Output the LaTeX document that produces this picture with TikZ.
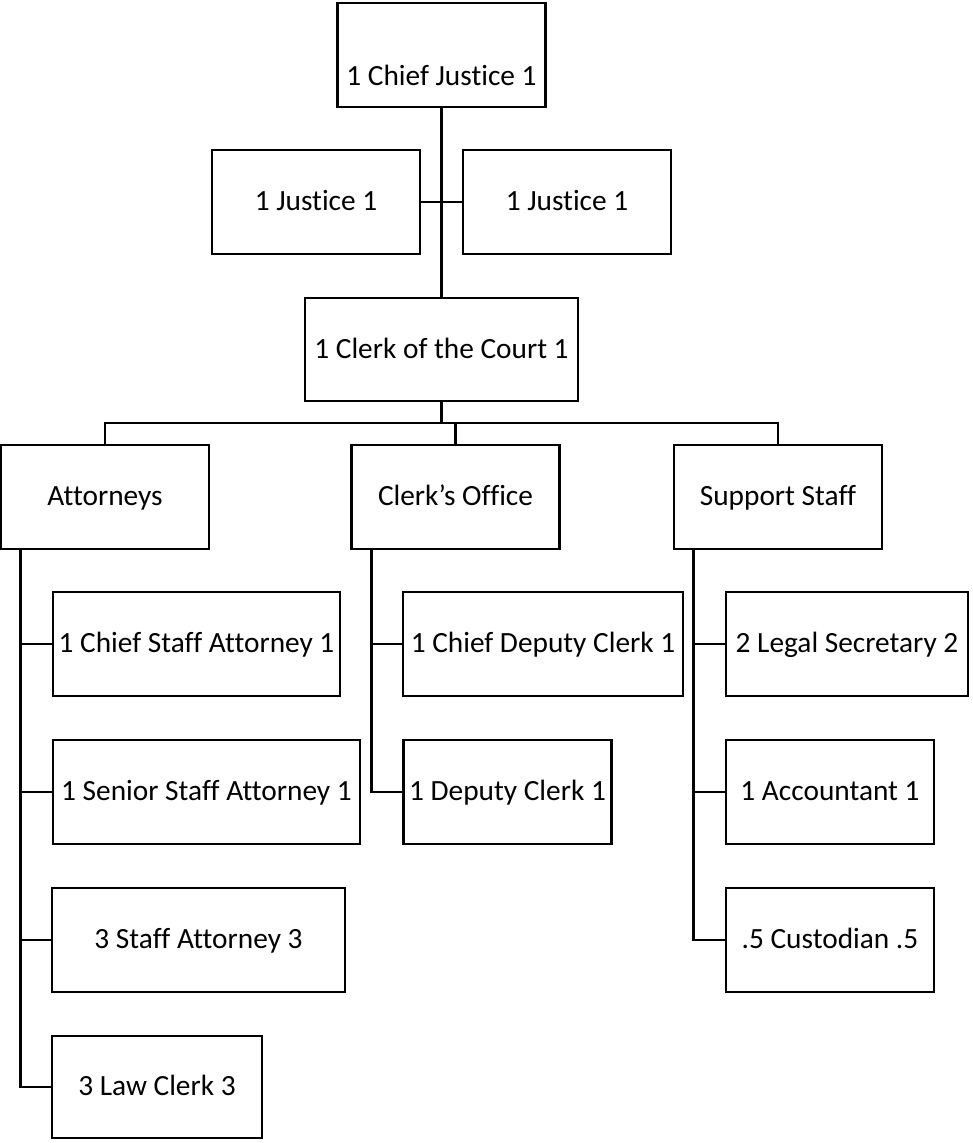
\documentclass[tikz,border=0pt]{standalone}
\usepackage{fontspec}
\setmainfont{Carlito}[Ligatures=NoCommon]
\begin{document}
\begin{tikzpicture}[x=0.75pt, y=-0.75pt, font=\fontsize{22}{26}\selectfont, line width=2.2pt,
	box/.style={draw, rectangle, inner sep=1pt, text height=16pt, text depth=3pt, minimum width=156pt, minimum height=78pt}]
	\useasboundingbox (0,0) rectangle (972,1143);
	%court
	\node[box] (chief) at (441.5,55) {\smash{\raisebox{-16pt}{1 Chief Justice 1}}};
	\node[box] (justiceL) at (316,202) {1 Justice 1};
	\node[box] (justiceR) at (567,202) {1 Justice 1};
	\node[box, minimum width=204.75pt, minimum height=77.25pt] (clerk) at (441.5,349.5) {1 Clerk of the Court 1};
	%offices
	\node[box] (attys) at (105,497) {Attorneys};
	\node[box] (office) at (455.5,497) {Clerk’s Office};
	\node[box] (support) at (778,497) {Support Staff};
	%staff
	\node[box, minimum width=215.25pt] (chiefatty) at (196.5,644) {1 Chief Staff Attorney 1};
	\node[box, minimum width=230.25pt] (senioratty) at (206.5,792) {1 Senior Staff Attorney 1};
	\node[box, minimum width=219.75pt] (staffatty) at (198.5,940) {3 Staff Attorney 3};
	\node[box, minimum width=157.5pt, minimum height=76.5pt] (lawclerk) at (157,1087) {3 Law Clerk 3};
	\node[box, minimum width=210pt] (chiefdeputy) at (543,644) {1 Chief Deputy Clerk 1};
	\node[box] (deputy) at (507.5,792) {1 Deputy Clerk 1};
	\node[box, minimum width=181.5pt] (legalsec) at (847,644) {2 Legal Secretary 2};
	\node[box] (accountant) at (830,792) {1 Accountant 1};
	\node[box] (custodian) at (830,940) {.5 Custodian .5};
	%lines
	\draw (chief) -- (clerk);
	\draw (justiceL) -- (justiceR);
	\coordinate (bus) at (0,423);
	\draw (clerk.south) -- (clerk.south |- bus);
	\draw (attys.north) -- (attys.north |- bus) -- (support.north |- bus) -- (support.north);
	\draw (office.north) -- (office.north |- bus);
	\foreach \n in {attys,office,support}
	\coordinate (\n spine) at ([xshift=15.75pt]\n.south west);
	\foreach \top/\last in {attys/lawclerk, office/deputy, support/custodian}
	\draw (\top spine) |- (\last.west);
	\foreach \top/\mid in {attys/chiefatty, attys/senioratty, attys/staffatty, office/chiefdeputy, support/legalsec, support/accountant}
	\draw (\mid.west) -- (\mid.west -| \top spine);
\end{tikzpicture}
\end{document}
